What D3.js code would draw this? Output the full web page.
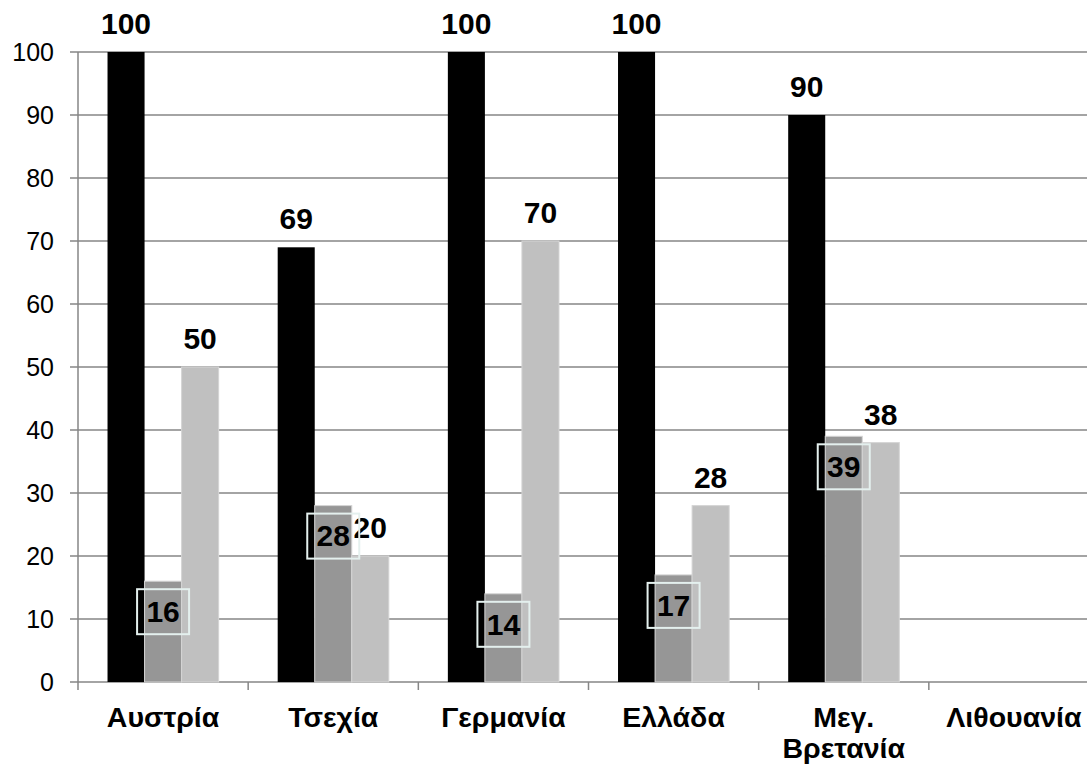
<!DOCTYPE html>
<html lang="el">
<head>
  <meta charset="UTF-8">
  <script src="https://d3js.org/d3.v7.min.js"></script>
  <style>
    body { margin: 0; background: #fff; }
    svg { display: block; font-family: "Liberation Sans", Arial, sans-serif; }
    .grid line { stroke: #868686; stroke-width: 1.5; }
    .tick-label { font-size: 25px; fill: #000; }
    .cat-label { font-size: 28.5px; font-weight: bold; fill: #000; }
    .val { font-size: 30px; font-weight: bold; fill: #000; }
  </style>
</head>
<body>
  <div id="chart"></div>
  <script>
    // data
    var categories = ["Αυστρία", "Τσεχία", "Γερμανία", "Ελλάδα", "Μεγ. Βρετανία", "Λιθουανία"];
    var seriesNames = ["s1", "s2", "s3"];
    var s1 = [100, 69, 100, 100, 90, null];
    var s2 = [16, 28, 14, 17, 39, null];
    var s3 = [50, 20, 70, 28, 38, null];
    var yTicks = [0, 10, 20, 30, 40, 50, 60, 70, 80, 90, 100];

    var width = 1087, height = 766;
    var plotLeft = 78, plotTop = 52, plotBottom = 682;
    var plotW = 1021;

    var colors = { s1: "#000000", s2: "#969696", s3: "#c0c0c0" };
    var values = { s1: s1, s2: s2, s3: s3 };

    var svg = d3.select("#chart").append("svg")
      .attr("width", width)
      .attr("height", height);

    var x = d3.scaleBand()
      .domain(categories)
      .range([plotLeft, plotLeft + plotW])
      .paddingInner(0.347)
      .paddingOuter(0.347 / 2);

    var xs = d3.scaleBand()
      .domain(seriesNames)
      .range([0, x.bandwidth()]);

    var y = d3.scaleLinear().domain([0, 100]).range([plotBottom, plotTop]);

    // horizontal gridlines + y ticks
    var grid = svg.append("g").attr("class", "grid");
    grid.selectAll("line.h")
      .data(yTicks)
      .enter().append("line")
      .attr("class", "h")
      .attr("x1", plotLeft - 8)
      .attr("x2", width)
      .attr("y1", function (d) { return y(d); })
      .attr("y2", function (d) { return y(d); });

    // y axis line
    grid.append("line")
      .attr("x1", plotLeft).attr("x2", plotLeft)
      .attr("y1", y(100)).attr("y2", y(0) + 8);

    // category ticks between groups
    var step = x.step();
    grid.selectAll("line.c")
      .data(categories.slice(1))
      .enter().append("line")
      .attr("class", "c")
      .attr("x1", function (d) { return x(d) - (step - x.bandwidth()) / 2; })
      .attr("x2", function (d) { return x(d) - (step - x.bandwidth()) / 2; })
      .attr("y1", y(0))
      .attr("y2", y(0) + 8);

    svg.selectAll("text.tick-label")
      .data(yTicks)
      .enter().append("text")
      .attr("class", "tick-label")
      .attr("x", plotLeft - 24)
      .attr("y", function (d) { return y(d); })
      .attr("dy", "0.35em")
      .attr("text-anchor", "end")
      .text(function (d) { return d; });

    // flatten bars
    var bars = [];
    categories.forEach(function (c, i) {
      seriesNames.forEach(function (s) {
        if (values[s][i] != null) bars.push({ cat: c, s: s, v: values[s][i] });
      });
    });

    svg.append("g").selectAll("rect")
      .data(bars)
      .enter().append("rect")
      .attr("x", function (d) { return x(d.cat) + xs(d.s); })
      .attr("width", xs.bandwidth())
      .attr("y", function (d) { return y(d.v); })
      .attr("height", function (d) { return y(0) - y(d.v); })
      .attr("fill", function (d) { return colors[d.s]; })
      .attr("stroke", function (d) { return d.s === "s1" ? "none" : "#d4d4d4"; })
      .attr("stroke-width", 1);

    // value labels above bars (series 1 and 3)
    svg.append("g").selectAll("text")
      .data(bars.filter(function (d) { return d.s !== "s2"; }))
      .enter().append("text")
      .attr("class", "val")
      .attr("x", function (d) { return x(d.cat) + xs(d.s) + xs.bandwidth() / 2; })
      .attr("y", function (d) { return y(d.v) - 18; })
      .attr("text-anchor", "middle")
      .text(function (d) { return d.v; });

    // boxed labels for series 2
    var boxed = svg.append("g").selectAll("g")
      .data(bars.filter(function (d) { return d.s === "s2"; }))
      .enter().append("g")
      .attr("transform", function (d) {
        return "translate(" + (x(d.cat) + xs(d.s) + xs.bandwidth() / 2) + "," + (y(d.v) + 30) + ")";
      });

    boxed.append("rect")
      .attr("x", -26).attr("y", -22)
      .attr("width", 52).attr("height", 45)
      .attr("fill", "none")
      .attr("stroke", "#e4f0ee")
      .attr("stroke-width", 2);

    boxed.append("text")
      .attr("class", "val")
      .attr("text-anchor", "middle")
      .attr("dy", "0.36em")
      .text(function (d) { return d.v; });

    // category labels, two lines when needed
    var cat = svg.append("g").selectAll("text")
      .data(categories)
      .enter().append("text")
      .attr("class", "cat-label")
      .attr("text-anchor", "middle")
      .attr("x", function (d) { return x(d) + x.bandwidth() / 2; })
      .attr("y", 727);

    cat.each(function (d) {
      var words = d.indexOf(". ") > 0 ? d.split(" ") : [d];
      var t = d3.select(this);
      words.forEach(function (w, i) {
        t.append("tspan")
          .attr("x", x(d) + x.bandwidth() / 2)
          .attr("dy", i === 0 ? 0 : 31)
          .text(w);
      });
    });
  </script>
</body>
</html>
